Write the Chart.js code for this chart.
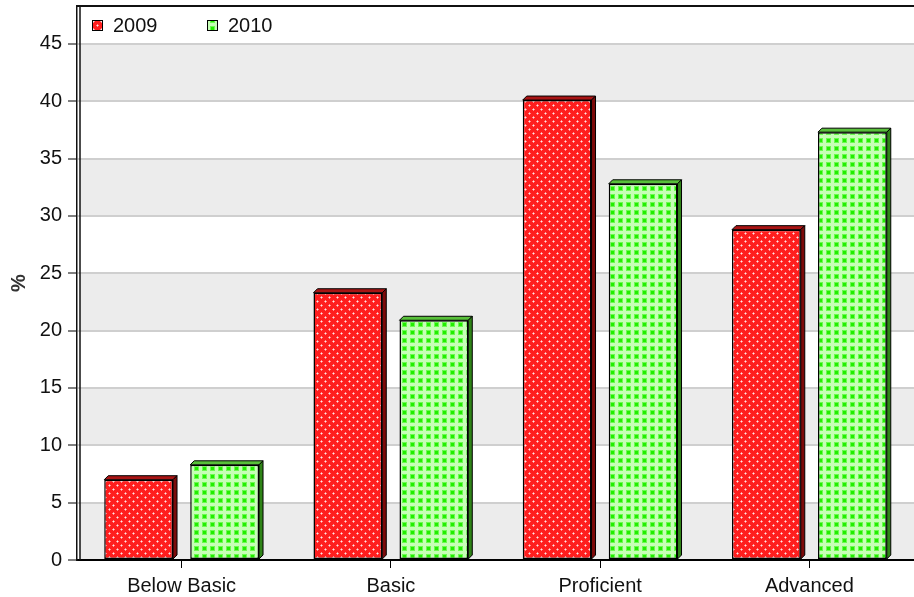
<!DOCTYPE html>
<html>
<head>
<meta charset="utf-8">
<script src="https://cdn.jsdelivr.net/npm/chart.js@4.4.0/dist/chart.umd.min.js"></script>
<style>
  html, body { margin: 0; padding: 0; background: #fff; overflow: hidden; }
  #wrap { width: 914px; height: 597px; }
</style>
</head>
<body>
<div id="wrap"><canvas id="results"></canvas></div>
<script>
var levels = ["Below Basic", "Basic", "Proficient", "Advanced"];
var years = ["2009", "2010"];
var pct2009 = [7.0, 23.3, 40.1, 28.8];
var pct2010 = [8.3, 20.9, 32.8, 37.3];
var yTicks = [0, 5, 10, 15, 20, 25, 30, 35, 40, 45];
var yTop = 48.3;

var fontFamily = "'Liberation Sans', Arial, sans-serif";
Chart.defaults.font.family = fontFamily;
Chart.defaults.font.size = 20;
Chart.defaults.color = "#111";

// red fill with light dots in a diagonal lattice
function dotPattern() {
  var c = document.createElement("canvas");
  c.width = 8;
  c.height = 8;
  var g = c.getContext("2d");
  g.fillStyle = "#ff1e1e";
  g.fillRect(0, 0, 8, 8);
  [[1, 1], [5, 5]].forEach(function (p) {
    g.fillStyle = "#ff8c8c";
    g.fillRect(p[0] - 1, p[1], 3, 1);
    g.fillRect(p[0], p[1] - 1, 1, 3);
    g.fillStyle = "#ffe6e6";
    g.fillRect(p[0], p[1], 1, 1);
  });
  return g.createPattern(c, "repeat");
}

// pale green fill with bright green squares
function gridPattern() {
  var c = document.createElement("canvas");
  c.width = 8;
  c.height = 8;
  var g = c.getContext("2d");
  g.fillStyle = "#c6ffb6";
  g.fillRect(0, 0, 8, 8);
  g.fillStyle = "#6cfa50";
  g.fillRect(2, 2, 5, 5);
  g.fillStyle = "#22ee00";
  g.fillRect(3, 3, 3, 3);
  return g.createPattern(c, "repeat");
}

var ctx = document.getElementById("results").getContext("2d");
var redFill = dotPattern();
var greenFill = gridPattern();
var depthColors = [
  { top: "#a81414", side: "#7c0a0a" },
  { top: "#58c03a", side: "#2f8418" }
];

// alternating grey bands behind the grid
var bandsPlugin = {
  id: "bands",
  beforeDraw: function (chart) {
    var a = chart.chartArea;
    var y = chart.scales.y;
    var c = chart.ctx;
    c.save();
    c.fillStyle = "#ececec";
    for (var v = 0; v < 45; v += 10) {
      var y1 = y.getPixelForValue(v + 5);
      var y0 = y.getPixelForValue(v);
      c.fillRect(a.left + 3, y1, a.right - a.left - 3, y0 - y1);
    }
    c.restore();
  }
};

// top and right faces of each bar
var depthPlugin = {
  id: "depth",
  beforeDatasetsDraw: function (chart) {
    var c = chart.ctx;
    var d = 4;
    c.save();
    c.lineWidth = 1;
    c.strokeStyle = "#000";
    chart.data.datasets.forEach(function (ds, i) {
      chart.getDatasetMeta(i).data.forEach(function (bar) {
        var p = bar.getProps(["x", "y", "base", "width"], true);
        var l = p.x - p.width / 2;
        var r = p.x + p.width / 2;
        c.fillStyle = depthColors[i].top;
        c.beginPath();
        c.moveTo(l, p.y);
        c.lineTo(l + d, p.y - d);
        c.lineTo(r + d, p.y - d);
        c.lineTo(r, p.y);
        c.closePath();
        c.fill();
        c.stroke();
        c.fillStyle = depthColors[i].side;
        c.beginPath();
        c.moveTo(r, p.y);
        c.lineTo(r + d, p.y - d);
        c.lineTo(r + d, p.base - d);
        c.lineTo(r, p.base);
        c.closePath();
        c.fill();
        c.stroke();
      });
    });
    c.restore();
  }
};

// plot frame and the legend inside it
var framePlugin = {
  id: "frame",
  afterDraw: function (chart) {
    var a = chart.chartArea;
    var c = chart.ctx;
    c.save();
    c.strokeStyle = "#111";
    c.lineWidth = 2;
    c.beginPath();
    c.moveTo(a.left - 1, a.top);
    c.lineTo(a.right, a.top);
    c.stroke();
    c.lineWidth = 1.5;
    c.beginPath();
    c.moveTo(a.left + 3, a.top + 1);
    c.lineTo(a.left + 3, a.bottom);
    c.stroke();

    c.font = "20px " + fontFamily;
    c.textBaseline = "middle";
    c.textAlign = "left";
    var x = a.left + 15;
    chart.data.datasets.forEach(function (ds) {
      c.fillStyle = ds.backgroundColor;
      c.fillRect(x, a.top + 14, 10, 10);
      c.lineWidth = 1;
      c.strokeStyle = "#000";
      c.strokeRect(x + 0.5, a.top + 14.5, 10, 10);
      c.fillStyle = "#111";
      c.fillText(ds.label, x + 21, a.top + 20);
      x += 115;
    });
    c.restore();
  }
};

new Chart(ctx, {
  type: "bar",
  data: {
    labels: levels,
    datasets: [
      {
        label: years[0],
        data: pct2009,
        backgroundColor: redFill,
        borderColor: "#000",
        borderWidth: 1.5,
        borderSkipped: false
      },
      {
        label: years[1],
        data: pct2010,
        backgroundColor: greenFill,
        borderColor: "#000",
        borderWidth: 1.5,
        borderSkipped: false
      }
    ]
  },
  options: {
    responsive: true,
    maintainAspectRatio: false,
    animation: false,
    categoryPercentage: 0.822,
    barPercentage: 0.8,
    layout: { padding: { top: 6, left: 0, right: 0, bottom: 0 } },
    plugins: {
      legend: { display: false },
      tooltip: { enabled: false }
    },
    scales: {
      x: {
        afterFit: function (scale) {
          scale.height = 37;
          scale.paddingLeft = 0;
          scale.paddingRight = 0;
        },
        grid: {
          drawOnChartArea: false,
          offset: false,
          tickColor: "#000",
          tickLength: 8
        },
        border: { color: "#000", width: 2 },
        ticks: { padding: 6, maxRotation: 0, autoSkip: false }
      },
      y: {
        min: 0,
        max: yTop,
        afterBuildTicks: function (scale) {
          scale.ticks = yTicks.map(function (v) {
            return { value: v };
          });
        },
        afterFit: function (scale) {
          scale.width = 77;
          scale.paddingTop = 0;
          scale.paddingBottom = 0;
        },
        grid: {
          color: "#cfcfcf",
          lineWidth: 2,
          tickColor: "#000",
          tickWidth: 1,
          tickLength: 9
        },
        border: { color: "#111", width: 1.5 },
        ticks: { padding: 6 },
        title: {
          display: true,
          text: "%",
          color: "#333",
          font: { size: 20, weight: "bold" },
          padding: { top: 7, bottom: 0 }
        }
      }
    }
  },
  plugins: [bandsPlugin, depthPlugin, framePlugin]
});
</script>
</body>
</html>
